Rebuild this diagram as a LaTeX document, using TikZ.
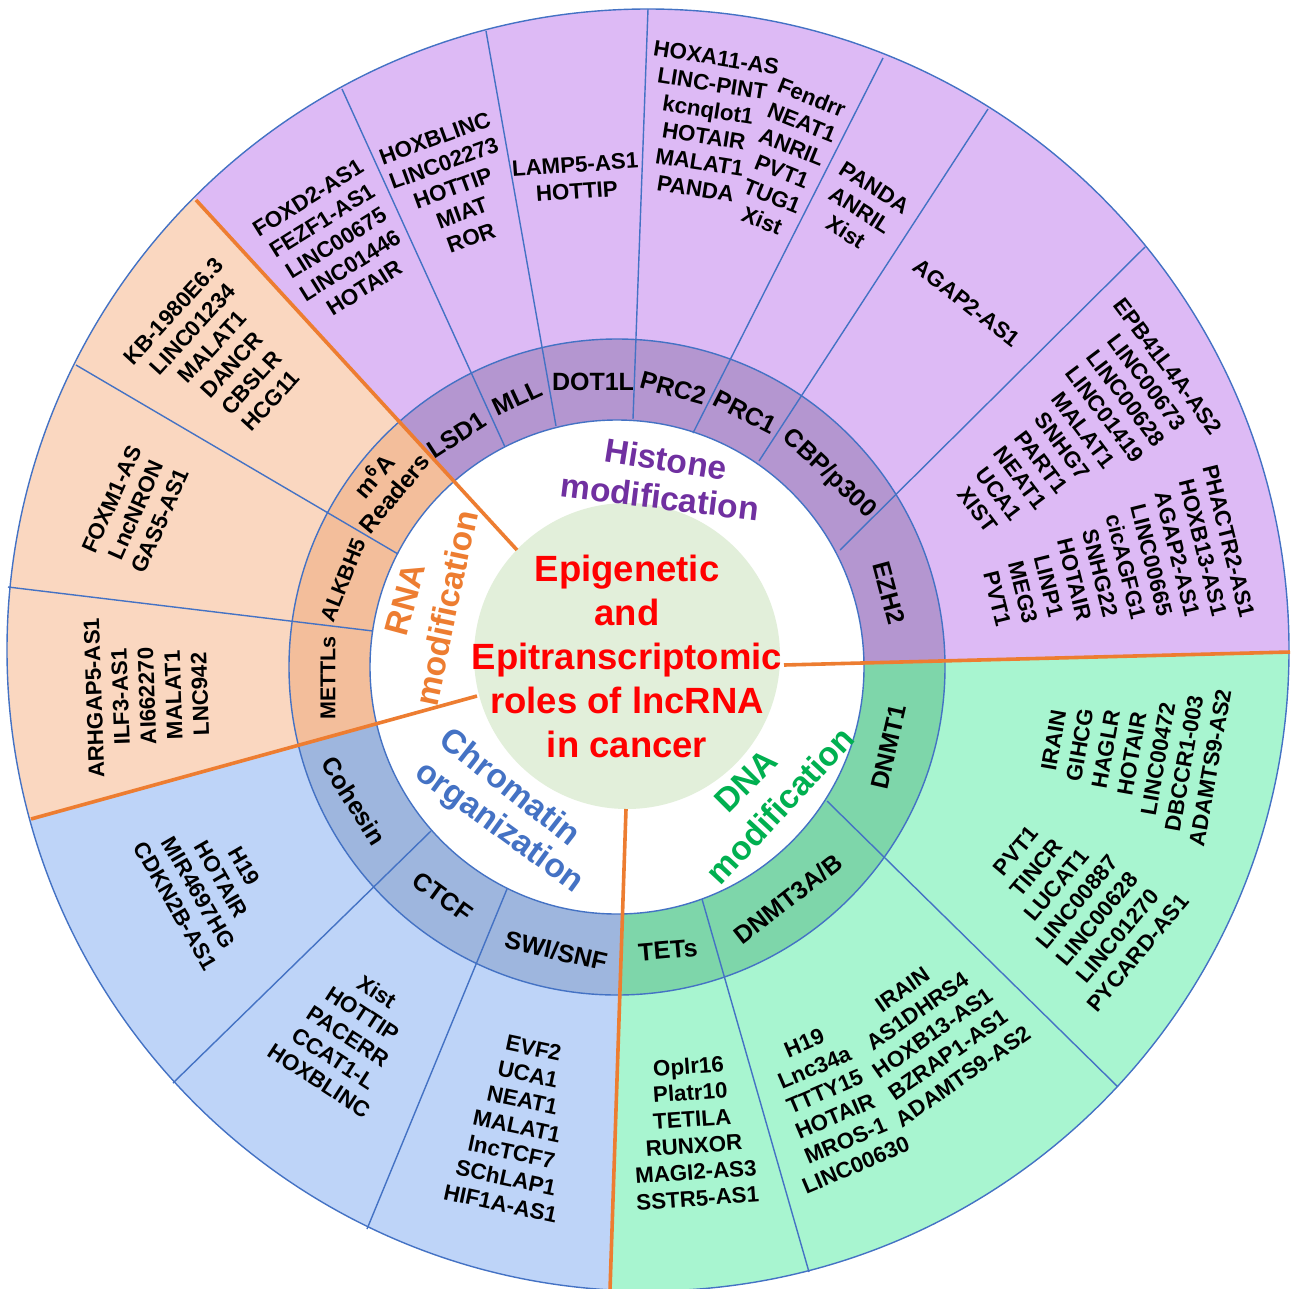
\documentclass[tikz,border=0pt]{standalone}
\usepackage{fontspec}
\setmainfont{Liberation Sans}
\usetikzlibrary{calc}
\definecolor{histL}{RGB}{221,186,245}
\definecolor{histD}{RGB}{180,150,208}
\definecolor{rnaL}{RGB}{250,215,192}
\definecolor{rnaD}{RGB}{243,190,155}
\definecolor{chrL}{RGB}{190,212,248}
\definecolor{chrD}{RGB}{158,182,222}
\definecolor{dnaL}{RGB}{168,245,208}
\definecolor{dnaD}{RGB}{126,214,170}
\definecolor{centerG}{RGB}{226,239,218}
\definecolor{lineB}{RGB}{68,114,196}
\definecolor{orangeL}{RGB}{237,125,49}
\definecolor{titleR}{RGB}{255,0,0}
\definecolor{histT}{RGB}{112,48,160}
\definecolor{chrT}{RGB}{68,114,196}
\definecolor{dnaT}{RGB}{0,176,80}
\begin{document}
\begin{tikzpicture}[x=1pt,y=-1pt,
  gene/.style={font=\fontsize{22.3}{26.5}\selectfont\bfseries, align=center, inner sep=0pt},
  ringlab/.style={font=\fontsize{25}{28}\selectfont\bfseries, align=center, inner sep=0pt},
  smallring/.style={font=\fontsize{21.5}{25}\selectfont\bfseries, align=center, inner sep=0pt},
  catlab/.style={font=\fontsize{33.5}{38}\selectfont\bfseries, inner sep=0pt},
  titlelab/.style={font=\fontsize{36.5}{44}\selectfont\bfseries, text=titleR, align=center, inner sep=0pt},
  bl/.style={draw=lineB, line width=1.4pt},
  ol/.style={draw=orangeL, line width=3.6pt}]
\useasboundingbox (0,0) rectangle (1292,1288);
% centres
\coordinate (OC) at (648,650);
\coordinate (RC) at (617,667);
\coordinate (GC) at (627,656);
% orange dividers
\coordinate (o1i) at (517,550); \coordinate (o1o) at (196,200);
\coordinate (o2i) at (784,665); \coordinate (o2o) at (1290,652);
\coordinate (o3i) at (626,809); \coordinate (o3o) at (610,1290);
\coordinate (o4i) at (477,696); \coordinate (o4o) at (31,819);
\coordinate (o1e) at ($(o1i)!1.6!(o1o)$);
\coordinate (o2e) at ($(o2i)!1.6!(o2o)$);
\coordinate (o3e) at ($(o3i)!1.6!(o3o)$);
\coordinate (o4e) at ($(o4i)!1.6!(o4o)$);
% light sectors
\begin{scope}
\clip (OC) circle (641);
\fill[histL] (GC) -- (o1i) -- (o1e) -- (0,-600) -- (1900,-600) -- (o2e) -- (o2i) -- cycle;
\fill[dnaL] (GC) -- (o2i) -- (o2e) -- (1900,1900) -- (o3e) -- (o3i) -- cycle;
\fill[chrL] (GC) -- (o3i) -- (o3e) -- (-600,1900) -- (o4e) -- (o4i) -- cycle;
\fill[rnaL] (GC) -- (o4i) -- (o4e) -- (-600,-600) -- (o1e) -- (o1i) -- cycle;
\end{scope}
% dark ring
\begin{scope}
\clip (RC) circle (328);
\fill[histD] (GC) -- (o1i) -- (o1e) -- (0,-600) -- (1900,-600) -- (o2e) -- (o2i) -- cycle;
\fill[dnaD] (GC) -- (o2i) -- (o2e) -- (1900,1900) -- (o3e) -- (o3i) -- cycle;
\fill[chrD] (GC) -- (o3i) -- (o3e) -- (-600,1900) -- (o4e) -- (o4i) -- cycle;
\fill[rnaD] (GC) -- (o4i) -- (o4e) -- (-600,-600) -- (o1e) -- (o1i) -- cycle;
\end{scope}
\fill[white] (RC) circle (247);
\fill[centerG] (GC) circle (153);
% circles
\draw[bl] (OC) circle (641);
\draw[bl] (RC) circle (328);
\draw[bl] (RC) circle (247);
% blue cell dividers
\coordinate (h1i) at (505,447); \coordinate (h1o) at (342,89);
\coordinate (h2i) at (556,426); \coordinate (h2o) at (486,31);
\coordinate (h3i) at (633,419); \coordinate (h3o) at (648,9);
\coordinate (h4i) at (693,433); \coordinate (h4o) at (883,58);
\coordinate (h5i) at (759,461); \coordinate (h5o) at (988,109);
\coordinate (h6i) at (840,550); \coordinate (h6o) at (1145,247);
\coordinate (r1i) at (398,554); \coordinate (r1o) at (76,365);
\coordinate (r2i) at (373,631); \coordinate (r2o) at (8,587);
\coordinate (c1i) at (431,831); \coordinate (c1o) at (173,1083);
\coordinate (c2i) at (507,889); \coordinate (c2o) at (367,1229);
\coordinate (d1i) at (702,899); \coordinate (d1o) at (809,1272);
\coordinate (d2i) at (827,801); \coordinate (d2o) at (1118,1087);
\foreach \a in {h1,h2,h3,h4,h5,h6,r1,r2,c1,c2,d1,d2}{
  \draw[bl] (\a i) -- (\a o);
}
% orange lines
\draw[ol] (o1i) -- (o1o);
\draw[ol] (o2i) -- (o2o);
\draw[ol] (o3i) -- (o3o);
\draw[ol] (o4i) -- (o4o);
% title
\node[titlelab] (title) at (627,656) {Epigenetic\\and\\Epitranscriptomic\\roles of lncRNA\\in cancer};
% category labels
\node[catlab, text=histT, rotate=-9] (hist1) at (666,459) {Histone};
\node[catlab, text=histT, rotate=-7] (hist2) at (660,497) {modification};
\node[catlab, text=orangeL, rotate=75] (rna1) at (405,599) {RNA};
\node[catlab, text=orangeL, rotate=78] (rna2) at (446,608) {modification};
\node[catlab, text=chrT, rotate=-38] (chr1) at (511,786) {Chromatin};
\node[catlab, text=chrT, rotate=-36] (chr2) at (499,828) {organization};
\node[catlab, text=dnaT, rotate=45] (dna1) at (746,781) {DNA};
\node[catlab, text=dnaT, rotate=47] (dna2) at (780,805) {modification};
% ring labels
\node[ringlab, rotate=33] (lsd1) at (457,435) {LSD1};
\node[ringlab, rotate=25] (mll) at (517,398) {MLL};
\node[ringlab, rotate=0] (dot1l) at (593,382) {DOT1L};
\node[ringlab, rotate=-15] (prc2) at (673,388) {PRC2};
\node[ringlab, rotate=-27] (prc1) at (745,412) {PRC1};
\node[ringlab, rotate=-43] (cbp) at (829,474) {CBP/p300};
\node[ringlab, rotate=-75] (ezh2) at (889,593) {EZH2};
\node[ringlab, rotate=77] (dnmt1) at (889,747) {DNMT1};
\node[ringlab, rotate=38] (dnmt3) at (788,899) {DNMT3A/B};
\node[ringlab, rotate=5] (tets) at (668,950) {TETs};
\node[ringlab, rotate=-13] (swi) at (556,951) {SWI/SNF};
\node[ringlab, rotate=-36] (ctcf) at (443,897) {CTCF};
\node[ringlab, rotate=-58] (cohesin) at (354,801) {Cohesin};
\node[smallring, rotate=90] (mettls) at (328,678) {METTLs};
\node[smallring, rotate=68] (alkbh5) at (343,580) {ALKBH5};
\node[ringlab, font=\fontsize{24}{26}\selectfont\bfseries, rotate=50] (m6a) at (383,484) {m\textsuperscript{6}A\\Readers};
% gene lists
\node[gene, rotate=47.5] (gKB) at (222,356) {KB-1980E6.3\\LINC01234\\MALAT1\\DANCR\\CBSLR\\HCG11};
\node[gene, rotate=66] (gFOX) at (136,510) {FOXM1-AS\\LncNRON\\GAS5-AS1};
\node[gene, rotate=92] (gARH) at (147,696) {ARHGAP5-AS1\\ILF3-AS1\\AI662270\\MALAT1\\LNC942};
\node[gene, rotate=32] (gFOXD) at (336,243) {FOXD2-AS1\\FEZF1-AS1\\LINC00675\\LINC01446\\HOTAIR};
\node[gene, rotate=20] (gHOXB) at (453,188) {HOXBLINC\\LINC02273\\HOTTIP\\MIAT\\ROR};
\node[gene, rotate=4] (gLAMP) at (576,178) {LAMP5-AS1\\HOTTIP};
\node[gene, rotate=-9] (gHOXA) at (706,123) {HOXA11-AS\\LINC-PINT\\kcnqlot1\\HOTAIR\\MALAT1\\PANDA};
\node[gene, rotate=-22] (gFEN) at (787,159) {Fendrr\\NEAT1\\ANRIL\\PVT1\\TUG1\\Xist};
\node[gene, rotate=-32.5] (gPANDA) at (860,210) {PANDA\\ANRIL\\Xist};
\node[gene, rotate=-38] (gAGAP) at (967,303) {AGAP2-AS1};
\node[gene, rotate=-53] (gEPB) at (1073,438) {EPB41L4A-AS2\\LINC00673\\LINC00628\\LINC01419\\MALAT1\\SNHG7\\PART1\\NEAT1\\UCA1\\XIST};
\node[gene, rotate=-76] (gPHA) at (1113,570) {PHACTR2-AS1\\HOXB13-AS1\\AGAP2-AS1\\LINC00665\\cicAGFG1\\SNHG22\\HOTAIR\\LINP1\\MEG3\\PVT1};
\node[gene, rotate=80] (gIRA) at (1132,754) {IRAIN\\GIHCG\\HAGLR\\HOTAIR\\LINC00472\\DBCCR1-003\\ADAMTS9-AS2};
\node[gene, rotate=50] (gPVT) at (1077,902) {PVT1\\TINCR\\LUCAT1\\LINC00887\\LINC00628\\LINC01270\\PYCARD-AS1};
\node[gene, rotate=23] (gH19) at (830,1104) {H19\\Lnc34a\\TTTY15\\HOTAIR\\MROS-1\\LINC00630};
\node[gene, rotate=35] (gIRB) at (933,1033) {IRAIN\\AS1DHRS4\\HOXB13-AS1\\BZRAP1-AS1\\ADAMTS9-AS2};
\node[gene, rotate=4] (gOPL) at (693,1132) {Oplr16\\Platr10\\TETILA\\RUNXOR\\MAGI2-AS3\\SSTR5-AS1};
\node[gene, rotate=-60] (gCOH) at (210,886) {H19\\HOTAIR\\MIR4697HG\\CDKN2B-AS1};
\node[gene, rotate=-33] (gCTCF) at (348,1036) {Xist\\HOTTIP\\PACERR\\CCAT1-L\\HOXBLINC};
\node[gene, rotate=-12] (gSWI) at (517,1126) {EVF2\\UCA1\\NEAT1\\MALAT1\\lncTCF7\\SChLAP1\\HIF1A-AS1};
\end{tikzpicture}
\end{document}
